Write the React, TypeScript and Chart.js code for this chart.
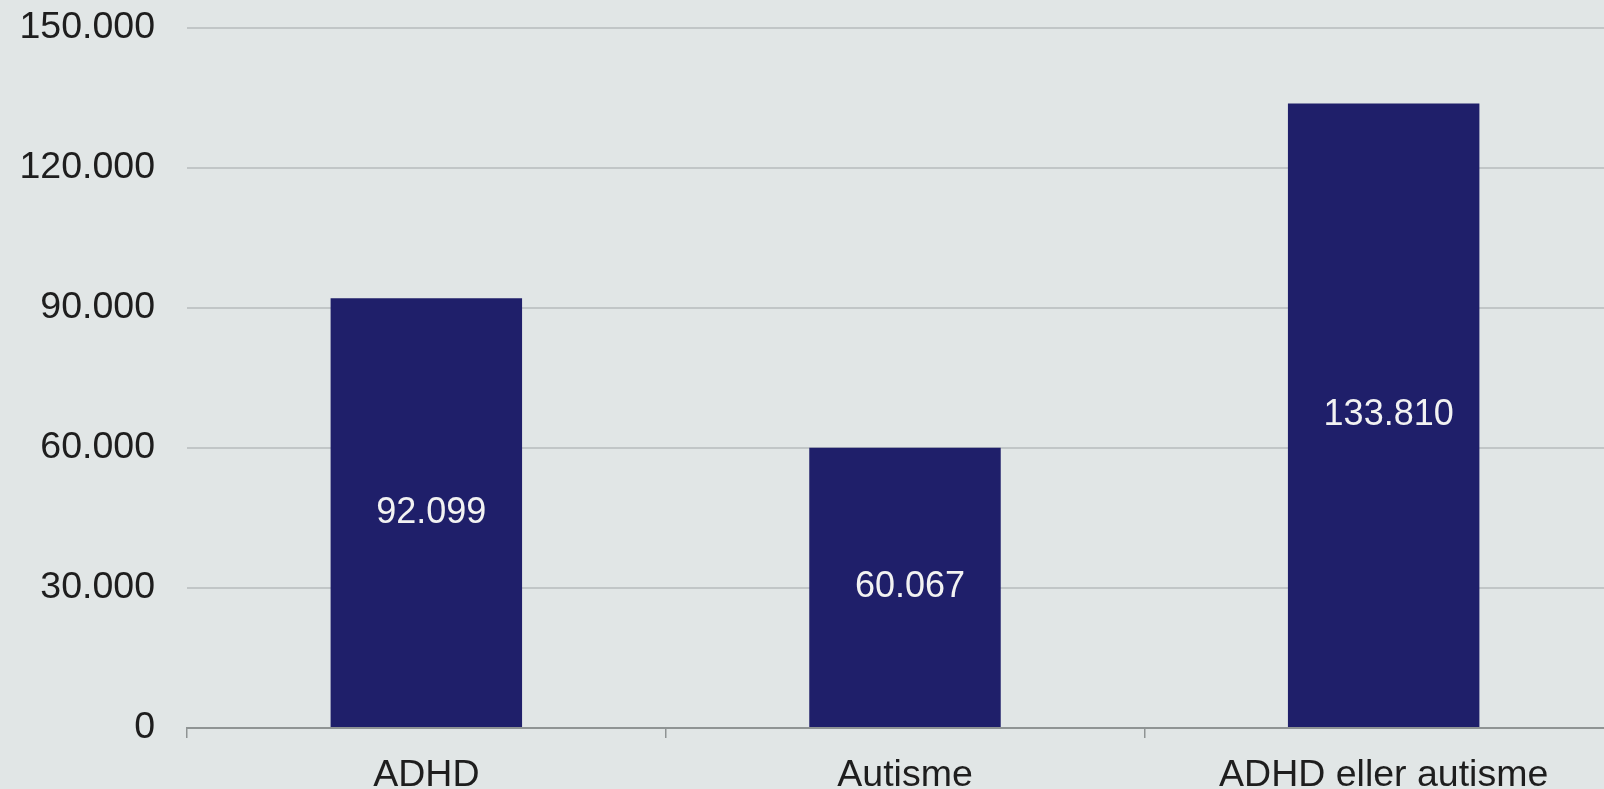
import React, { useEffect, useRef } from "react";
import { Chart, registerables } from "chart.js";

Chart.register(...registerables);

const categories = ["ADHD", "Autisme", "ADHD eller autisme"];
const values = [92099, 60067, 133810];
const yTickValues = [0, 30000, 60000, 90000, 120000, 150000];

const FONT = "'Liberation Sans', Arial, Helvetica, sans-serif";
const fmt = (v: number) => String(Math.round(v)).replace(/\B(?=(\d{3})+(?!\d))/g, ".");

const barLabels = {
  id: "barLabels",
  afterDatasetsDraw(chart: any) {
    const ctx = chart.ctx;
    const meta = chart.getDatasetMeta(0);
    ctx.save();
    ctx.font = `36px ${FONT}`;
    ctx.fillStyle = "#f2f2f2";
    ctx.textAlign = "center";
    ctx.textBaseline = "middle";
    meta.data.forEach((el: any, i: number) => {
      const { x, y, base } = el.getProps(["x", "y", "base"], true);
      ctx.fillText(fmt(values[i]), x + 5, (y + base) / 2);
    });
    ctx.restore();
  },
};

export default function App() {
  const ref = useRef<HTMLCanvasElement | null>(null);
  useEffect(() => {
    if (!ref.current) return;
    const chart = new Chart(ref.current, {
      type: "bar",
      data: {
        labels: categories,
        datasets: [
          {
            data: values,
            backgroundColor: "#1f1f6a",
            borderWidth: 0,
            barPercentage: 0.4,
            categoryPercentage: 1.0,
          },
        ],
      },
      options: {
        responsive: false,
        animation: false,
        devicePixelRatio: 1,
        layout: { padding: 0 },
        plugins: { legend: { display: false }, tooltip: { enabled: false } },
        scales: {
          x: {
            afterFit: (s: any) => {
              s.height = 72;
            },
            grid: {
              offset: true,
              drawOnChartArea: false,
              drawTicks: true,
              tickLength: 10,
              color: "#8f9494",
              lineWidth: 1.5,
            },
            border: { display: true, color: "#8f9494", width: 2 },
            ticks: {
              color: "#1e1e1e",
              font: { family: FONT, size: 37.5 },
              padding: 15,
              maxRotation: 0,
              autoSkip: false,
            },
          },
          y: {
            min: 0,
            max: 150000,
            afterFit: (s: any) => {
              s.width = 187;
              s.paddingTop = 28;
              s.paddingBottom = 0;
            },
            afterBuildTicks: (s: any) => {
              s.ticks = yTickValues.map((v) => ({ value: v }));
            },
            grid: { drawTicks: false, color: "#c1c6c7", lineWidth: 2 },
            border: { display: false },
            ticks: {
              color: "#1e1e1e",
              font: { family: FONT, size: 37.5 },
              padding: 32,
              callback: (v: any) => fmt(Number(v)),
            },
          },
        },
      },
      plugins: [barLabels],
    });
    return () => chart.destroy();
  }, []);

  return (
    <div
      style={{
        position: "fixed",
        left: 0,
        top: 0,
        width: 1604,
        height: 789,
        overflow: "hidden",
        background: "#e1e6e6",
      }}
    >
      <canvas ref={ref} width={1623} height={800} style={{ display: "block" }} />
    </div>
  );
}
